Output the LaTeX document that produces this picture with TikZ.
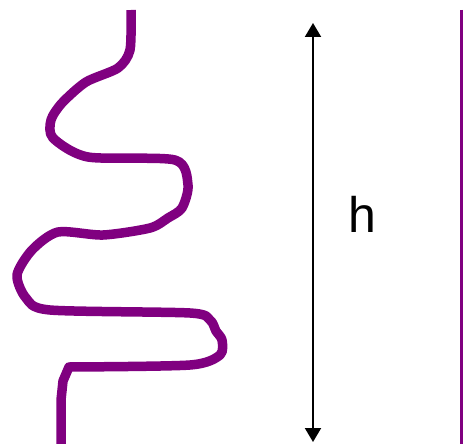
\documentclass[tikz,border=0pt]{standalone}
\usepackage{fontspec}
\setmainfont{Liberation Sans}
\usetikzlibrary{arrows.meta}
\definecolor{wire}{HTML}{800080}
\tikzset{
	coil/.style = {draw = wire, line width = 9.5pt, line join = round},
	rod/.style = {draw = wire, line width = 3pt},
	dim/.style = {line width = 2pt, {Triangle[length=14pt,width=16pt]}-{Triangle[length=14pt,width=16pt]}}
}
\begin{document}
\begin{tikzpicture} [x = 1pt, y = -1pt]
	\useasboundingbox (0,0) rectangle (463,444);
	% wiggly wire
	\draw [coil] plot [smooth, tension = 0.45] coordinates {(131,10) (130,50) (118,68) (86,82) (62,103) (51,120) (53,138) (88,157) (175,160) (188,185) (182,208) (168,218) (150,228) (103,235) (58,232) (32,250) (17,275) (26,298) (50,310) (190,313) (210,320) (216,331) (222,340) (220,355) (190,365) (69,367)}
		-- (63,381) -- (61,400) -- (61,444);
	% height
	\coordinate (top) at (313,23);
	\coordinate (bottom) at (313,442);
	\draw [dim] (top) -- (bottom);
	\node (height) at (362,214) {\fontsize{50}{60}\selectfont h};
	% straight wire
	\coordinate (rodtop) at (461.5,10);
	\coordinate (rodbottom) at (461.5,444);
	\draw [rod] (rodtop) -- (rodbottom);
\end{tikzpicture}
\end{document}
